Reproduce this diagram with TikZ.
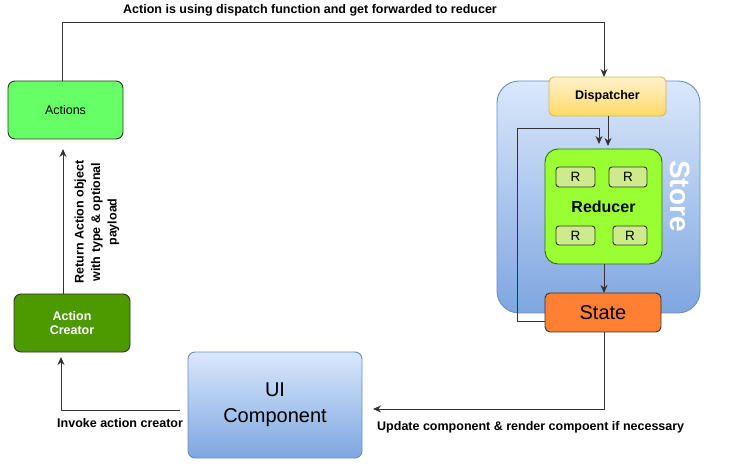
\documentclass[tikz,border=0pt]{standalone}
\usepackage{fontspec}
\setmainfont{Liberation Sans}
\usetikzlibrary{arrows.meta,positioning,calc}
\definecolor{blueTop}{HTML}{DAE8FC}
\definecolor{blueBot}{HTML}{7EA6E0}
\definecolor{blueLine}{HTML}{6C8EBF}
\definecolor{yellowTop}{HTML}{FFF2CC}
\definecolor{yellowBot}{HTML}{FFD966}
\definecolor{yellowLine}{HTML}{D6B656}
\definecolor{actionsFill}{HTML}{66FF66}
\definecolor{creatorFill}{HTML}{4D9900}
\definecolor{reducerFill}{HTML}{99FF33}
\definecolor{reducerLine}{HTML}{2D7600}
\definecolor{rFill}{HTML}{CDEB8B}
\definecolor{stateFill}{HTML}{FF8033}
\definecolor{lineGray}{HTML}{333333}
\tikzset{
    box/.style={
	rectangle,
	rounded corners=7pt,
	draw=lineGray,
	line width=0.9pt,
	anchor=north west,
	align=center,
	inner sep=0pt,
	outer sep=0pt
    },
    bluebox/.style={
	box,
	draw=blueLine,
	top color=blueTop,
	bottom color=blueBot
    },
    rbox/.style={
	box,
	rounded corners=3pt,
	fill=rFill,
	minimum height=20pt,
	font=\fontsize{13.5}{15}\selectfont
    },
    label/.style={
	font=\bfseries\fontsize{12.5}{14}\selectfont,
	inner sep=0pt,
	align=center
    },
    flow/.style={
	draw=lineGray,
	line width=1pt,
	-{Stealth[length=8pt,width=7pt]}
    },
}

\begin{document}
\begin{tikzpicture}[x=1pt,y=-1pt]
    \useasboundingbox (0,0) rectangle (731,470);

    \node[box, fill=actionsFill, minimum width=115pt, minimum height=58pt,
	font=\fontsize{12.5}{14}\selectfont] (ACTIONS) at (8,81) {Actions};

    \node[box, fill=creatorFill, minimum width=116pt, minimum height=58pt,
	text=white, font=\bfseries\fontsize{12.5}{14.5}\selectfont]
	(CREATOR) at (14,294) {Action\\Creator};

    \node[bluebox, minimum width=174pt, minimum height=106pt,
	font=\fontsize{20}{26}\selectfont] (UI) at (188,352) {UI\\Component};

    % store and its parts
    \node[bluebox, rounded corners=22pt, minimum width=203pt,
	minimum height=232pt] (STORE) at (497,81) {};
    \node[text=white, rotate=-90, font=\bfseries\fontsize{28}{30}\selectfont]
	(STORETXT) at (680,196) {Store};

    \node[box, rounded corners=5pt, draw=yellowLine, top color=yellowTop,
	bottom color=yellowBot, minimum width=117pt, minimum height=39pt,
	font=\bfseries\fontsize{12.5}{14}\selectfont] (DISPATCH) at (549,77)
	{Dispatcher};

    \node[box, rounded corners=13pt, draw=reducerLine, fill=reducerFill,
	minimum width=117pt, minimum height=115pt,
	font=\bfseries\fontsize{16}{18}\selectfont] (REDUCER) at (545,149)
	{Reducer};
    \node[rbox, minimum width=39pt] (R1) at (556,167) {R};
    \node[rbox, minimum width=38pt] (R2) at (609,167) {R};
    \node[rbox, minimum width=39pt, minimum height=19pt] (R3) at (556,226) {R};
    \node[rbox, minimum width=34pt, minimum height=19pt] (R4) at (613,226) {R};

    \node[box, rounded corners=5pt, fill=stateFill, minimum width=116pt,
	minimum height=39pt, font=\fontsize{20}{22}\selectfont] (STATE)
	at (545,293) {State};

    % connectors
    \coordinate (TOPL) at (62,23);
    \coordinate (TOPR) at (604,23);
    \draw[flow] (ACTIONS.north -| TOPL) -- (TOPL) -- (TOPR) -- (DISPATCH.north -| TOPR);
    \node[label] (LBLTOP) at (310,10)
	{Action is using dispatch function and get forwarded to reducer};

    \draw[flow] (DISPATCH.south -| 608,0) -- ($(REDUCER.north -| 608,0)+(0,-3)$);

    \coordinate (LOOPA) at (517,322);
    \coordinate (LOOPB) at (517,129);
    \coordinate (LOOPC) at (599,129);
    \draw[flow] (STATE.west |- LOOPA) -- (LOOPA) -- (LOOPB) -- (LOOPC)
	-- ($(REDUCER.north -| LOOPC)+(0,-5)$);

    \draw[flow] (REDUCER.south -| 604,0) -- (STATE.north -| 604,0);

    \coordinate (UPD) at (604,409);
    \draw[flow] (STATE.south -| UPD) -- (UPD) -- ($(UI.east |- UPD)+(11,0)$);
    \node[label, anchor=west] (LBLUPD) at (377,427)
	{Update component \& render compoent if necessary};

    \coordinate (INVA) at (180,410);
    \coordinate (INVB) at (61,410);
    \draw[flow] (INVA) -- (INVB) -- ($(CREATOR.south -| INVB)+(0,5)$);
    \node[label, anchor=west] (LBLINV) at (57,423) {Invoke action creator};

    \draw[flow] (CREATOR.north -| 63,0) -- ($(ACTIONS.south -| 63,0)+(0,10)$);
    \node[label, rotate=90, font=\bfseries\fontsize{12.5}{16.5}\selectfont]
	(LBLRET) at (97,222)
	{Return Action object\\with type \& optional\\payload};
\end{tikzpicture}
\end{document}
